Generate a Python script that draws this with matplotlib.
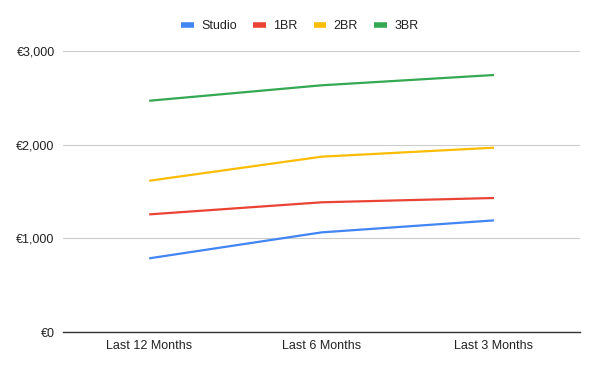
import matplotlib
matplotlib.use("Agg")
import matplotlib.pyplot as plt
from matplotlib.ticker import FuncFormatter

categories = ["Last 12 Months", "Last 6 Months", "Last 3 Months"]
studio = [787, 1064, 1192]
br1 = [1256, 1385, 1431]
br2 = [1615, 1872, 1968]
br3 = [2469, 2634, 2744]
series_names = ["Studio", "1BR", "2BR", "3BR"]
colors = ["#4285F4", "#EA4335", "#FBBC04", "#34A853"]
yticks = [0, 1000, 2000, 3000]

plt.rcParams['font.family'] = ['Liberation Sans', 'DejaVu Sans']

fig = plt.figure(figsize=(6, 3.71), dpi=100)
ax = fig.add_axes([0.105, 0.105, 0.862, 0.7575])

x = list(range(len(categories)))
lines = []
for vals, name, c in zip([studio, br1, br2, br3], series_names, colors):
    l, = ax.plot(x, vals, color=c, lw=1.6, label=name, solid_capstyle='butt')
    lines.append(l)

ax.set_xlim(-0.5, 2.5)
ax.set_ylim(0, 3000)
ax.set_yticks(yticks)
ax.yaxis.set_major_formatter(FuncFormatter(lambda v, p: "€{:,.0f}".format(v)))
ax.set_xticks(x)
ax.set_xticklabels(categories)
ax.grid(axis='y', color='#cccccc', lw=0.8)
ax.set_axisbelow(True)
for s in ['top', 'right', 'left']:
    ax.spines[s].set_visible(False)
ax.spines['bottom'].set_color('#333333')
ax.spines['bottom'].set_linewidth(1.0)
ax.tick_params(axis='both', length=0, labelsize=9, colors='#222222')
ax.tick_params(axis='y', pad=6)
ax.tick_params(axis='x', pad=6)

fig.legend(handles=lines, loc='center', bbox_to_anchor=(0.5, 0.93), ncol=4,
           frameon=False, fontsize=9, handlelength=1.0, handleheight=0.5,
           columnspacing=1.3, handletextpad=0.6, labelcolor='#222222')
for h in fig.legends[0].legend_handles:
    h.set_linewidth(4)

fig.savefig("out.png", dpi=100)
